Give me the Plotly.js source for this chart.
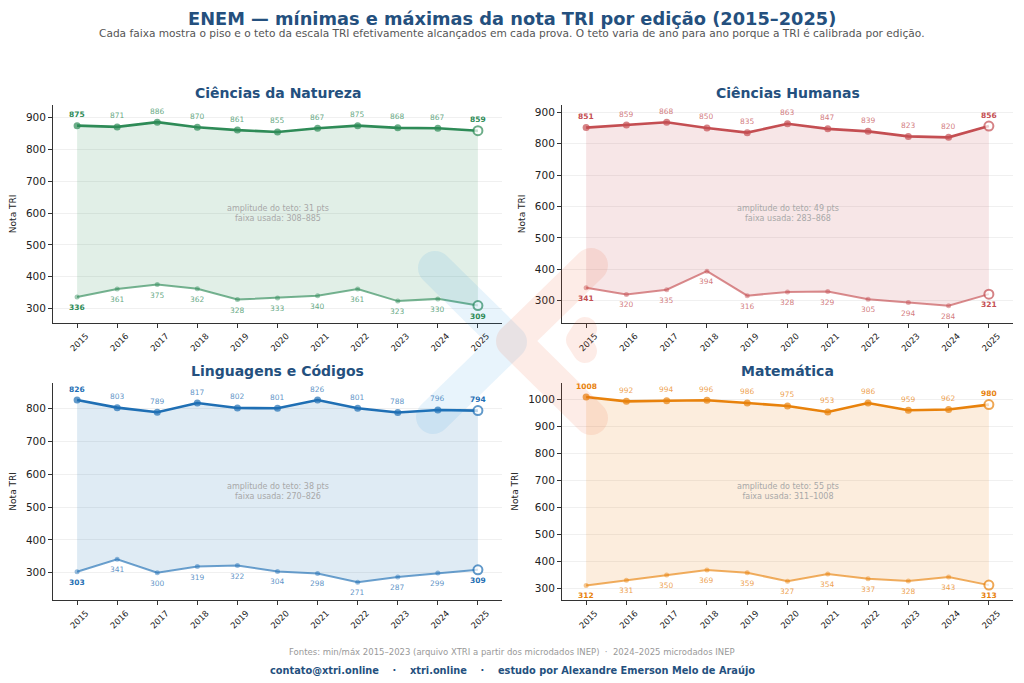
<!DOCTYPE html>
<html>
<head>
<meta charset="utf-8">
<script src="https://cdn.plot.ly/plotly-3.0.1.min.js"></script>
<style>html,body{margin:0;padding:0;background:#fff}#chart{width:1024px;height:683px}</style>
</head>
<body>
<div id="chart"></div>
<script>
// ---------- DATA ----------
const years = [2015, 2016, 2017, 2018, 2019, 2020, 2021, 2022, 2023, 2024, 2025];
const natMax = [875, 871, 886, 870, 861, 855, 867, 875, 868, 867, 859];
const natMin = [336, 361, 375, 362, 328, 333, 340, 361, 323, 330, 309];
const humMax = [851, 859, 868, 850, 835, 863, 847, 839, 823, 820, 856];
const humMin = [341, 320, 335, 394, 316, 328, 329, 305, 294, 284, 321];
const lingMax = [826, 803, 789, 817, 802, 801, 826, 801, 788, 796, 794];
const lingMin = [303, 341, 300, 319, 322, 304, 298, 271, 287, 299, 309];
const matMax = [1008, 992, 994, 996, 986, 975, 953, 986, 959, 962, 980];
const matMin = [312, 331, 350, 369, 359, 327, 354, 337, 328, 343, 313];
const areaNames = ['Ciências da Natureza', 'Ciências Humanas', 'Linguagens e Códigos', 'Matemática'];
const ampTeto = [31, 49, 38, 55];
const faixaUsada = ['308–885', '283–868', '270–826', '311–1008'];
const yearLabels = years.map(String);

// ---------- STYLE ----------
const maxSeries = [natMax, humMax, lingMax, matMax];
const minSeries = [natMin, humMin, lingMin, matMin];
const colors = [[46,139,87],[196,78,82],[31,111,180],[232,130,12]];
const xDom = [[0.0518, 0.4902], [0.5488, 0.9893]];
const yDom = [[0.5275, 0.8463], [0.1215, 0.4397]];
const yRanges = [[255, 940], [230, 923], [217, 879], [258, 1061]];
const W = 1024, H = 683;
const FONT = 'DejaVu Sans, sans-serif';
const NAVY = '#24507e';

function rgba(c, a) { return 'rgba(' + c[0] + ',' + c[1] + ',' + c[2] + ',' + a + ')'; }

const traces = [];
const annotations = [];
const layout = {
  width: W, height: H,
  margin: {l: 0, r: 0, t: 0, b: 0},
  paper_bgcolor: '#ffffff',
  plot_bgcolor: 'rgba(0,0,0,0)',
  showlegend: false,
  font: {family: FONT, color: '#222'},
  annotations: annotations,
  shapes: []
};

for (let i = 0; i < 4; i++) {
  const sfx = i === 0 ? '' : String(i + 1);
  const xid = 'x' + sfx, yid = 'y' + sfx;
  const c = colors[i];
  const n = years.length;
  layout['xaxis' + sfx] = {
    domain: xDom[i % 2], range: [2014.4, 2025.6], anchor: yid,
    tickvals: years, ticktext: yearLabels, tickangle: -45,
    ticks: 'outside', ticklen: 4, tickcolor: '#333', tickwidth: 1,
    showline: true, linecolor: '#333', linewidth: 1,
    showgrid: false, zeroline: false, ticklabelshift: 9,
    tickfont: {size: 8.5, color: '#222', family: FONT}, fixedrange: true
  };
  layout['yaxis' + sfx] = {
    domain: yDom[Math.floor(i / 2)], range: yRanges[i], anchor: xid,
    tick0: 0, dtick: 100,
    ticks: 'outside', ticklen: 4, tickcolor: '#333', tickwidth: 1,
    showline: true, linecolor: '#333', linewidth: 1,
    showgrid: true, gridcolor: 'rgba(0,0,0,0.06)', gridwidth: 1, zeroline: false,
    tickfont: {size: 10.5, color: '#222', family: FONT},
    title: {text: 'Nota TRI', font: {size: 9, color: '#222', family: FONT}, standoff: 7},
    fixedrange: true
  };

  const mx = maxSeries[i], mn = minSeries[i];
  const lastIdx = n - 1;
  traces.push({
    x: years, y: mn, xaxis: xid, yaxis: yid, type: 'scatter', mode: 'lines+markers',
    hoverinfo: 'skip',
    line: {color: rgba(c, 0.65), width: 2},
    marker: {
      size: mn.map((v, k) => k === lastIdx ? 9 : 5),
      color: mn.map((v, k) => k === lastIdx ? '#ffffff' : rgba(c, 0.65)),
      line: {color: mn.map(() => rgba(c, 1)), width: mn.map((v, k) => k === lastIdx ? 2 : 0)}
    }
  });
  traces.push({
    x: years, y: mx, xaxis: xid, yaxis: yid, type: 'scatter', mode: 'lines+markers',
    hoverinfo: 'skip', fill: 'tonexty', fillcolor: rgba(c, 0.14),
    line: {color: rgba(c, 1), width: 2.6},
    marker: {
      size: mx.map((v, k) => k === lastIdx ? 9 : 7),
      color: mx.map((v, k) => k === lastIdx ? '#ffffff' : rgba(c, 1)),
      line: {color: rgba(c, 1), width: mx.map((v, k) => k === lastIdx ? 2 : 0)}
    }
  });
  for (let k = 0; k < n; k++) {
    const edge = (k === 0 || k === lastIdx);
    annotations.push({
      xref: xid, yref: yid, x: years[k], y: mx[k], yshift: 11, showarrow: false,
      text: edge ? '<b>' + mx[k] + '</b>' : String(mx[k]),
      font: {size: 7.5, color: edge ? rgba(c, 1) : rgba(c, 0.75), family: FONT}
    });
    annotations.push({
      xref: xid, yref: yid, x: years[k], y: mn[k], yshift: -10.5, showarrow: false,
      text: edge ? '<b>' + mn[k] + '</b>' : String(mn[k]),
      font: {size: 7.5, color: edge ? rgba(c, 1) : rgba(c, 0.75), family: FONT}
    });
  }
  annotations.push({
    xref: xid + ' domain', yref: yid + ' domain', x: 0.5, y: 1, yanchor: 'bottom', yshift: 2,
    showarrow: false, text: '<b>' + areaNames[i] + '</b>',
    font: {size: 14, color: NAVY, family: FONT}
  });
  annotations.push({
    xref: xid + ' domain', yref: yid + ' domain', x: 0.5, y: 0.5, showarrow: false,
    text: 'amplitude do teto: ' + ampTeto[i] + ' pts<br>faixa usada: ' + faixaUsada[i],
    font: {size: 8, color: '#a8a8a8', family: FONT}
  });
}

annotations.push({
  xref: 'paper', yref: 'paper', x: 0.5, y: 1 - 18 / H, yanchor: 'middle', showarrow: false,
  text: '<b>ENEM — mínimas e máximas da nota TRI por edição (2015–2025)</b>',
  font: {size: 17.8, color: NAVY, family: FONT}
});
annotations.push({
  xref: 'paper', yref: 'paper', x: 0.5, y: 1 - 33.5 / H, yanchor: 'middle', showarrow: false,
  text: 'Cada faixa mostra o piso e o teto da escala TRI efetivamente alcançados em cada prova. O teto varia de ano para ano porque a TRI é calibrada por edição.',
  font: {size: 10.6, color: '#555', family: FONT}
});
annotations.push({
  xref: 'paper', yref: 'paper', x: 0.5, y: 1 - 652 / H, yanchor: 'middle', showarrow: false,
  text: 'Fontes: min/máx 2015–2023 (arquivo XTRI a partir dos microdados INEP)\u00a0\u00a0·\u00a0\u00a02024–2025 microdados INEP',
  font: {size: 8.5, color: '#999', family: FONT}
});
annotations.push({
  xref: 'paper', yref: 'paper', x: 0.5, y: 1 - 670 / H, yanchor: 'middle', showarrow: false,
  text: '<b>contato@xtri.online\u00a0\u00a0\u00a0\u00a0·\u00a0\u00a0\u00a0\u00a0xtri.online\u00a0\u00a0\u00a0\u00a0·\u00a0\u00a0\u00a0\u00a0estudo por Alexandre Emerson Melo de Araújo</b>',
  font: {size: 9.8, color: NAVY, family: FONT}
});

// ---------- WATERMARK (logo) ----------
function strokePath(pts, h) {
  const m = pts.length;
  const d = [], nn = [];
  for (let i = 0; i < m - 1; i++) {
    const vx = pts[i + 1][0] - pts[i][0], vy = pts[i + 1][1] - pts[i][1];
    const l = Math.hypot(vx, vy);
    d.push([vx / l, vy / l]);
    nn.push([-vy / l, vx / l]);
  }
  const out = [];
  const arc = (cx, cy, a0, da, steps) => {
    for (let k = 0; k <= steps; k++) {
      const a = a0 + da * k / steps;
      out.push([cx + h * Math.cos(a), cy + h * Math.sin(a)]);
    }
  };
  const join = (j, a, b) => {
    const P = pts[j];
    const din = d[j - 1], dout = d[j];
    const sx = a[0] + b[0], sy = a[1] + b[1];
    const inner = sx * (dout[0] - din[0]) + sy * (dout[1] - din[1]) > 0;
    if (inner) {
      const den = 1 + a[0] * b[0] + a[1] * b[1];
      out.push([P[0] + h * sx / den, P[1] + h * sy / den]);
    } else {
      const a0 = Math.atan2(a[1], a[0]);
      let da = Math.atan2(b[1], b[0]) - a0;
      while (da > Math.PI) da -= 2 * Math.PI;
      while (da <= -Math.PI) da += 2 * Math.PI;
      arc(P[0], P[1], a0, da, 10);
    }
  };
  out.push([pts[0][0] + nn[0][0] * h, pts[0][1] + nn[0][1] * h]);
  for (let j = 1; j < m - 1; j++) join(j, nn[j - 1], nn[j]);
  const L = pts[m - 1], nl = nn[m - 2];
  arc(L[0], L[1], Math.atan2(nl[1], nl[0]), -Math.PI, 16);
  for (let j = m - 2; j >= 1; j--) join(j, [-nn[j][0], -nn[j][1]], [-nn[j - 1][0], -nn[j - 1][1]]);
  const F = pts[0], nf = nn[0];
  arc(F[0], F[1], Math.atan2(-nf[1], -nf[0]), -Math.PI, 16);
  return 'M ' + out.map(p => (p[0] / W).toFixed(5) + ',' + (1 - p[1] / H).toFixed(5)).join(' L ') + ' Z';
}
const logoShapes = [
  {pts: [[435, 268], [510, 342], [433, 417]], color: 'rgba(30,150,230,0.10)'},
  {pts: [[591, 265], [513, 341], [591, 418]], color: 'rgba(240,80,40,0.11)'},
  {pts: [[585, 329], [578, 340], [585, 351]], color: 'rgba(240,80,40,0.11)', h: 12}
];
logoShapes.forEach(s => {
  layout.shapes.push({
    type: 'path', xref: 'paper', yref: 'paper', layer: 'above',
    path: strokePath(s.pts, s.h || 17), fillcolor: s.color, line: {width: 0}
  });
});

Plotly.newPlot('chart', traces, layout, {staticPlot: true, displayModeBar: false});
</script>
</body>
</html>
